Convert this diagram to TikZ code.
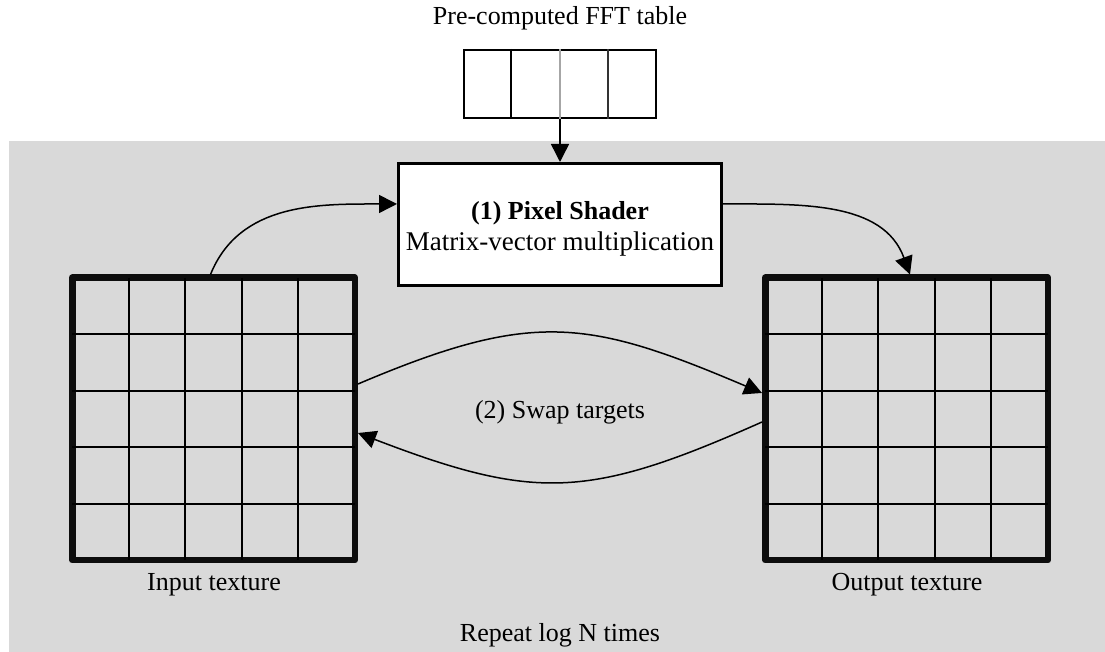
\documentclass[tikz,border=0pt]{standalone}
\usepackage{fontspec}
\setmainfont{Liberation Serif}
\usetikzlibrary{arrows.meta,calc}
\definecolor{loopbg}{HTML}{D9D9D9}
\begin{document}
\begin{tikzpicture}[x=1pt,y=1pt,
  flow/.style={line width=1.5pt,-{Triangle[length=18pt,width=18pt]}},
  lbl/.style={font=\fontsize{26}{31}\selectfont,inner sep=0pt},
  texbox/.style={draw=black!95,line width=6.5pt,line join=round,minimum size=282.5pt,inner sep=0pt},
  gridline/.style={line width=1.7pt},
  shaderbox/.style={draw,fill=white,line width=3pt,minimum width=323pt,minimum height=122pt,inner sep=0pt},
  tablebox/.style={draw,fill=white,line width=2pt,minimum width=192pt,minimum height=68pt,inner sep=0pt}
]
\useasboundingbox (0,0) rectangle (1105,652);
% loop region
\fill[loopbg] (9,0) rectangle (1105,511);

% FFT table
\node[lbl] (fftlabel) at (560,634) {Pre-computed FFT table};
\node[tablebox] (fft) at (560,568) {};
\draw[line width=1.5pt] ($(fft.north)+(-49,0)$) -- ($(fft.south)+(-49,0)$);
\draw[line width=1.5pt,gray!70] (fft.north) -- (fft.south);
\draw[line width=1.5pt,black!80] ($(fft.north)+(48,0)$) -- ($(fft.south)+(48,0)$);

% shader
\node[shaderbox] (shader) at (560,427.5) {};
\node[lbl,align=center] (shadertext) at ($(shader.center)+(0,-4)$)
  {\textbf{(1) Pixel Shader}\\{\fontsize{27}{31}\selectfont Matrix-vector multiplication}};

% textures
\node[texbox] (in) at (213.5,233) {};
\node[texbox] (out) at (906.5,233) {};
\foreach \t in {in,out}{
  \foreach \k in {-1.5,-0.5,0.5,1.5}{
    \draw[gridline] ($(\t.center)+(\k*56.5,141.25)$) -- ++(0,-282.5);
    \draw[gridline] ($(\t.center)+(-141.25,\k*56.5)$) -- ++(282.5,0);
  }
}
\node[lbl] (inlabel) at (214,67) {Input texture};
\node[lbl] (outlabel) at (907,67) {Output texture};
\node[lbl] (swap) at (560,240) {(2) Swap targets};
\node[lbl] (repeat) at (560,17) {Repeat log N times};

% connectors
\draw[flow] (fft.south) -- (shader.north);
\draw[flow] ($(in.north)+(-3,0)$) to[out=68,in=180] ($(shader.west)+(0,20.5)$);
\draw[flow] ($(shader.east)+(0,20.5)$) to[out=0,in=110] ($(out.north)+(3.5,0)$);
\draw[flow] ($(in.east)+(0,35)$) to[out=23,in=157,looseness=1.2] ($(out.west)+(0,26)$);
\draw[flow] ($(out.west)+(0,-3)$) to[out=204,in=-21,looseness=1.2] ($(in.east)+(0,-14)$);
\end{tikzpicture}
\end{document}
